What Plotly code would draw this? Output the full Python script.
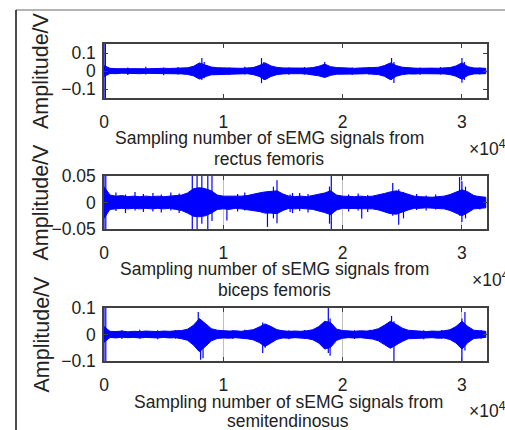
import plotly.graph_objects as go

# ---------------- data ----------------
sample_idx = [0, 500, 1000, 1500, 2000, 2500, 3000, 3500, 4000, 4500, 5000, 5500, 6000, 6500,
              7000, 7500, 8000, 8500, 9000, 9500, 10000, 10500, 11000, 11500, 12000, 12500,
              13000, 13500, 14000, 14500, 15000, 15500, 16000, 16500, 17000, 17500, 18000,
              18500, 19000, 19500, 20000, 20500, 21000, 21500, 22000, 22500, 23000, 23500,
              24000, 24500, 25000, 25500, 26000, 26500, 27000, 27500, 28000, 28500, 29000,
              29500, 30000, 30500, 31000, 31500, 32000]

# rectus femoris envelope (V)
rf_upper = [0.03, 0.015, 0.013, 0.014, 0.012, 0.015, 0.013, 0.012, 0.014, 0.013, 0.015, 0.014,
            0.016, 0.015, 0.018, 0.026, 0.045, 0.033, 0.022, 0.018, 0.017, 0.015, 0.016, 0.015,
            0.017, 0.019, 0.03, 0.045, 0.028, 0.02, 0.017, 0.016, 0.015, 0.017, 0.016, 0.019,
            0.026, 0.038, 0.024, 0.019, 0.017, 0.016, 0.015, 0.017, 0.016, 0.019, 0.021, 0.03,
            0.045, 0.03, 0.021, 0.017, 0.016, 0.015, 0.017, 0.016, 0.015, 0.017, 0.019, 0.028,
            0.045, 0.024, 0.017, 0.016, 0.015]
rf_lower = [-0.03, -0.014, -0.015, -0.012, -0.014, -0.013, -0.015, -0.013, -0.012, -0.015,
            -0.014, -0.013, -0.015, -0.016, -0.019, -0.027, -0.045, -0.031, -0.021, -0.017,
            -0.016, -0.017, -0.014, -0.016, -0.015, -0.02, -0.03, -0.048, -0.03, -0.02,
            -0.016, -0.015, -0.017, -0.015, -0.017, -0.02, -0.027, -0.036, -0.024, -0.018,
            -0.017, -0.016, -0.017, -0.016, -0.015, -0.017, -0.02, -0.029, -0.048, -0.029,
            -0.02, -0.016, -0.017, -0.015, -0.016, -0.017, -0.015, -0.016, -0.02, -0.029,
            -0.046, -0.024, -0.016, -0.015, -0.015]
rf_spike_x = [0, 120, 8200, 8400, 13200, 13400, 18500, 24100, 24300, 30000, 30200,
              2000, 3500, 5000, 6200, 10500, 11800, 15500, 16800, 20800, 22200, 26500, 28200,
              31500]
rf_spike_lo = [-0.2, -0.2, -0.05, -0.04, -0.067, -0.05, -0.033, -0.05, -0.067, -0.065, -0.05,
               -0.022, -0.02, -0.023, -0.02, -0.022, -0.02, -0.021, -0.02, -0.022, -0.02,
               -0.021, -0.02, -0.02]
rf_spike_hi = [0.2, 0.2, 0.072, 0.05, 0.072, 0.05, 0.05, 0.072, 0.05, 0.072, 0.05,
               0.02, 0.023, 0.02, 0.022, 0.02, 0.023, 0.02, 0.022, 0.02, 0.021, 0.02, 0.022,
               0.02]

# biceps femoris envelope (V)
bf_upper = [0.03, 0.014, 0.012, 0.013, 0.011, 0.012, 0.011, 0.012, 0.011, 0.012, 0.011, 0.012,
            0.012, 0.014, 0.018, 0.026, 0.028, 0.026, 0.022, 0.014, 0.012, 0.012, 0.011, 0.012,
            0.013, 0.016, 0.018, 0.02, 0.021, 0.022, 0.016, 0.012, 0.011, 0.012, 0.011, 0.013,
            0.015, 0.018, 0.022, 0.014, 0.012, 0.011, 0.011, 0.012, 0.011, 0.012, 0.014, 0.017,
            0.02, 0.022, 0.019, 0.015, 0.012, 0.011, 0.01, 0.01, 0.011, 0.012, 0.015, 0.02,
            0.024, 0.02, 0.013, 0.011, 0.01]
bf_lower = [-0.03, -0.013, -0.012, -0.011, -0.012, -0.011, -0.012, -0.011, -0.012, -0.011,
            -0.012, -0.011, -0.013, -0.015, -0.02, -0.026, -0.027, -0.025, -0.02, -0.013,
            -0.012, -0.013, -0.011, -0.012, -0.013, -0.015, -0.017, -0.02, -0.02, -0.021,
            -0.015, -0.011, -0.012, -0.011, -0.012, -0.013, -0.016, -0.019, -0.023, -0.014,
            -0.011, -0.012, -0.011, -0.011, -0.012, -0.012, -0.014, -0.017, -0.021, -0.022,
            -0.018, -0.014, -0.011, -0.011, -0.01, -0.01, -0.011, -0.012, -0.015, -0.02,
            -0.025, -0.019, -0.012, -0.011, -0.01]
bf_spike_x = [0, 150, 7400, 7800, 8200, 8700, 9050, 10300, 13700, 14200, 14500, 15800, 18900,
              19050, 21600, 24200, 24700, 25100, 29800, 30000, 30300,
              1000, 1800, 2600, 3300, 4100, 4800, 5600, 6300, 11200, 11800, 15600, 16400,
              17100, 20500, 21300, 22100, 26200, 27000, 27800, 31500]
bf_spike_lo = [-0.06, -0.06, -0.06, -0.06, -0.04, -0.06, -0.035, -0.034, -0.046, -0.03,
               -0.039, -0.02, -0.04, -0.06, -0.03, -0.025, -0.042, -0.03, -0.025, -0.037,
               -0.03,
               -0.016, -0.02, -0.015, -0.018, -0.017, -0.019, -0.015, -0.02, -0.017, -0.015,
               -0.018, -0.016, -0.019, -0.017, -0.015, -0.018, -0.014, -0.015, -0.013, -0.013]
bf_spike_hi = [0.06, 0.06, 0.06, 0.06, 0.06, 0.06, 0.06, 0.01, 0.02, 0.03, 0.042, 0.018,
               0.03, 0.06, 0.012, 0.037, 0.025, 0.02, 0.048, 0.04, 0.03,
               0.019, 0.015, 0.02, 0.016, 0.018, 0.015, 0.019, 0.017, 0.016, 0.019, 0.015,
               0.018, 0.016, 0.015, 0.017, 0.014, 0.016, 0.013, 0.015, 0.012]

# semitendinosus envelope (V)
st_upper = [0.03, 0.012, 0.011, 0.013, 0.01, 0.012, 0.011, 0.013, 0.012, 0.011, 0.013, 0.012,
            0.014, 0.015, 0.02, 0.035, 0.06, 0.04, 0.022, 0.016, 0.014, 0.013, 0.014, 0.012,
            0.015, 0.018, 0.028, 0.04, 0.03, 0.018, 0.014, 0.012, 0.013, 0.012, 0.014, 0.018,
            0.03, 0.05, 0.045, 0.02, 0.015, 0.013, 0.012, 0.014, 0.013, 0.016, 0.022, 0.035,
            0.05, 0.038, 0.024, 0.016, 0.014, 0.012, 0.011, 0.013, 0.012, 0.014, 0.018, 0.03,
            0.05, 0.03, 0.016, 0.014, 0.012]
st_lower = [-0.03, -0.011, -0.013, -0.01, -0.012, -0.011, -0.013, -0.011, -0.012, -0.013,
            -0.011, -0.013, -0.012, -0.016, -0.022, -0.04, -0.065, -0.045, -0.024, -0.015,
            -0.013, -0.014, -0.012, -0.014, -0.016, -0.02, -0.03, -0.045, -0.032, -0.018,
            -0.013, -0.014, -0.012, -0.013, -0.015, -0.02, -0.032, -0.055, -0.048, -0.022,
            -0.014, -0.012, -0.013, -0.012, -0.014, -0.017, -0.024, -0.038, -0.052, -0.04,
            -0.026, -0.016, -0.013, -0.012, -0.013, -0.012, -0.014, -0.013, -0.019, -0.032,
            -0.055, -0.03, -0.015, -0.013, -0.011]
st_spike_x = [0, 150, 7900, 8100, 8300, 13300, 13500, 18800, 18950, 24100, 24300, 30000, 30250,
              1500, 3000, 4500, 6000, 10800, 11800, 15500, 16800, 21000, 22300, 26800, 28300,
              31600]
st_spike_lo = [-0.12, -0.12, -0.06, -0.095, -0.09, -0.07, -0.05, -0.07, -0.08, -0.05, -0.1,
               -0.1, -0.06,
               -0.017, -0.016, -0.018, -0.016, -0.017, -0.016, -0.018, -0.016, -0.017, -0.016,
               -0.018, -0.016, -0.016]
st_spike_hi = [0.12, 0.12, 0.085, 0.05, 0.04, 0.045, 0.03, 0.1, 0.06, 0.07, 0.05, 0.06, 0.085,
               0.016, 0.018, 0.016, 0.017, 0.016, 0.018, 0.016, 0.017, 0.016, 0.018, 0.016,
               0.017, 0.016]

x_tick_vals = [0, 10000, 20000, 30000]
x_tick_text = ["0", "1", "2", "3"]

panels = [
    dict(up=rf_upper, lo=rf_lower, sx=rf_spike_x, slo=rf_spike_lo, shi=rf_spike_hi,
         yr=[-0.15, 0.15], yt=[-0.1, 0, 0.1], ytt=["\u22120.1", "0", "0.1"],
         l1="Sampling number of sEMG signals from", l2="rectus femoris"),
    dict(up=bf_upper, lo=bf_lower, sx=bf_spike_x, slo=bf_spike_lo, shi=bf_spike_hi,
         yr=[-0.05, 0.05], yt=[-0.05, 0, 0.05], ytt=["\u22120.05", "0", "0.05"],
         l1="Sampling number of sEMG signals from", l2="biceps femoris"),
    dict(up=st_upper, lo=st_lower, sx=st_spike_x, slo=st_spike_lo, shi=st_spike_hi,
         yr=[-0.1, 0.1], yt=[-0.1, 0, 0.1], ytt=["\u22120.1", "0", "0.1"],
         l1="Sampling number of sEMG signals from", l2="semitendinosus"),
]

# ---------------- layout geometry (pixels) ----------------
W, H = 505, 430
def px(x):
    return x / W
def py(y):
    return 1 - y / H

box_left, box_right = 104, 487
box_tb = [(44, 98), (176, 229), (308, 361)]
title_centers = [269, 274, 288]
line1_y = [138, 269, 402]
line2_y = [159, 290, 421]
xten = [(467, 148), (470, 279), (467, 410)]

FONT = "Liberation Sans, Arial, sans-serif"
TXT = "#222222"
BLUE = "#0000ff"

fig = go.Figure()
annotations = []
for k, p in enumerate(panels):
    n = k + 1
    xa = "x" if n == 1 else f"x{n}"
    ya = "y" if n == 1 else f"y{n}"
    poly_x = sample_idx + sample_idx[::-1]
    poly_y = p["up"] + p["lo"][::-1]
    fig.add_trace(go.Scatter(x=poly_x, y=poly_y, fill="toself", fillcolor=BLUE,
                             line=dict(color=BLUE, width=1), mode="lines",
                             xaxis=xa, yaxis=ya, showlegend=False, hoverinfo="skip"))
    sx, sy = [], []
    for xv, lo, hi in zip(p["sx"], p["slo"], p["shi"]):
        sx += [xv, xv, None]
        sy += [lo, hi, None]
    fig.add_trace(go.Scatter(x=sx, y=sy, mode="lines", line=dict(color=BLUE, width=1.2),
                             xaxis=xa, yaxis=ya, showlegend=False, hoverinfo="skip"))
    top, bot = box_tb[k]
    xkey = "xaxis" if n == 1 else f"xaxis{n}"
    ykey = "yaxis" if n == 1 else f"yaxis{n}"
    fig.update_layout({
        xkey: dict(domain=[px(box_left), px(box_right)], range=[0, 32100], anchor=ya,
                   tickvals=x_tick_vals, ticktext=x_tick_text, ticks="inside", ticklen=4,
                   tickcolor="#404040", showline=True, linecolor="#404040", linewidth=1.5,
                   mirror="ticks", showgrid=(n != 1), gridcolor="#c0c0c0", gridwidth=1,
                   zeroline=False, ticklabelstandoff=7, automargin=False,
                   tickfont=dict(family=FONT, size=17.5, color=TXT), fixedrange=True),
        ykey: dict(domain=[py(bot), py(top)], range=p["yr"], anchor=xa,
                   tickvals=p["yt"], ticktext=p["ytt"], ticks="inside", ticklen=4,
                   tickcolor="#404040", showline=True, linecolor="#404040", linewidth=1.5,
                   mirror="ticks", showgrid=False, zeroline=False, ticklabelstandoff=3,
                   automargin=False,
                   tickfont=dict(family=FONT, size=17.5, color=TXT), fixedrange=True),
    })
    annotations.append(dict(text=p["l1"], x=px(title_centers[k]), y=py(line1_y[k]),
                            xref="paper", yref="paper", xanchor="center", yanchor="middle",
                            showarrow=False, font=dict(family=FONT, size=17.5, color=TXT)))
    annotations.append(dict(text=p["l2"], x=px(title_centers[k]), y=py(line2_y[k]),
                            xref="paper", yref="paper", xanchor="center", yanchor="middle",
                            showarrow=False, font=dict(family=FONT, size=17.5, color=TXT)))
    annotations.append(dict(text="\u00d710<sup>4</sup>", x=px(xten[k][0]), y=py(xten[k][1]),
                            xref="paper", yref="paper", xanchor="left", yanchor="middle",
                            showarrow=False, font=dict(family=FONT, size=17.5, color=TXT)))
    annotations.append(dict(text="Amplitude/V", textangle=-90, x=px(41),
                            y=py((top + bot) / 2), xref="paper", yref="paper",
                            xanchor="center", yanchor="middle", showarrow=False,
                            font=dict(family=FONT, size=21.5, color=TXT)))

shapes = [
    dict(type="line", xref="paper", yref="paper", x0=px(16), x1=1.0, y0=py(10), y1=py(10),
         line=dict(color="#9a9a9a", width=1.5)),
    dict(type="line", xref="paper", yref="paper", x0=px(16), x1=px(16), y0=py(10), y1=0,
         line=dict(color="#111111", width=1.5)),
]

fig.update_layout(width=W, height=H,
                  margin=dict(l=0, r=0, t=0, b=0, pad=0, autoexpand=False),
                  paper_bgcolor="white", plot_bgcolor="white",
                  annotations=annotations, shapes=shapes, showlegend=False)

fig.write_html("out.html", config={"displayModeBar": False},
               post_script="document.body.style.margin='0px';"
                           "document.body.style.padding='0px';"
                           "document.body.style.overflow='hidden';")
